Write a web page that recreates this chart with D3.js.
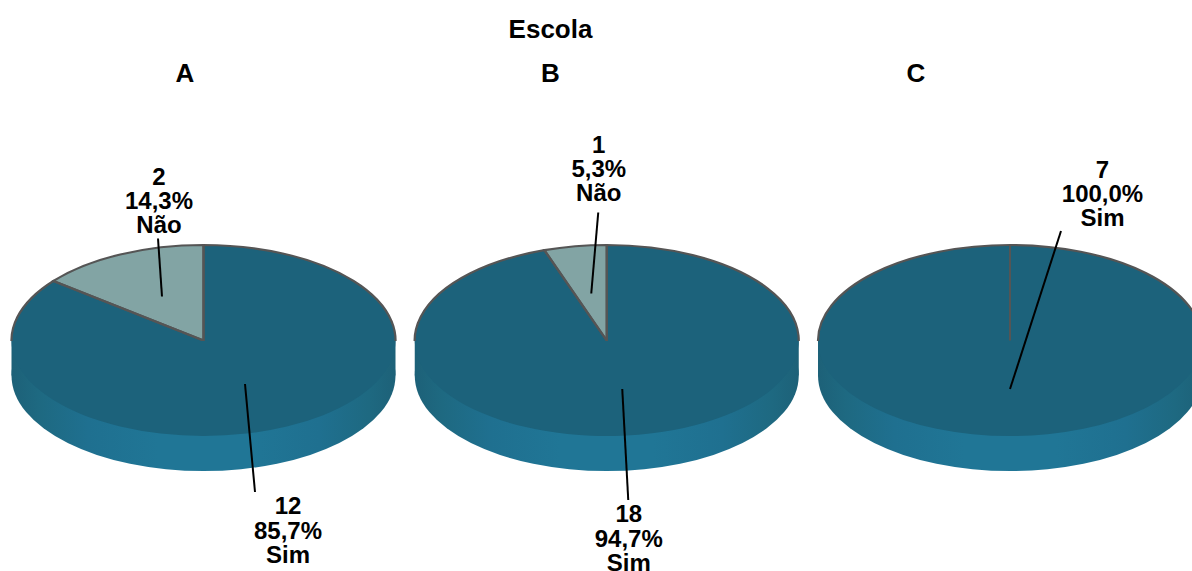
<!DOCTYPE html>
<html><head><meta charset="utf-8">
<script src="https://cdn.jsdelivr.net/npm/d3@7"></script>
<style>html,body{margin:0;padding:0;background:#fff;overflow:hidden}
text{font-family:"Liberation Sans",Arial,sans-serif;font-weight:700;fill:#000;text-anchor:middle}</style>
</head><body><svg id="c" width="1192" height="571"></svg>
<script>
const schools = ["A","B","C"];
const answers = ["Sim","Não"];
const countsA = [12,2];
const countsB = [18,1];
const countsC = [7,0];
const percentA = ["85,7%","14,3%"];
const percentB = ["94,7%","5,3%"];
const percentC = ["100,0%","0,0%"];
const allCounts = [countsA,countsB,countsC];
const allPercents = [percentA,percentB,percentC];

// layout (separate from data)
const W=1192,H=571, rx=192, ry=95.5, depth=35, cy=340.5;
const x = d3.scalePoint().domain(schools).range([203.5,1010]);
const headX = d3.scalePoint().domain(schools).range([185,916]);
const colour = d3.scaleOrdinal().domain(answers).range(["#1c627b","#82a4a4"]);
// label anchors and leader ends, per school and answer, relative to the pie centre
const callouts = {
  A:{Sim:{lx:84.5,ly:166,from:[41.5,43.5],to:[51.5,151.5]},Não:{lx:-44.5,ly:-163.5,from:[-41.5,-44],to:[-45.5,-102]}},
  B:{Sim:{lx:22,ly:174,from:[15.5,48.5],to:[21.5,159.5]},Não:{lx:-8,ly:-195.5,from:[-15.5,-47],to:[-8.5,-128]}},
  C:{Sim:{lx:92.5,ly:-170.5,from:[0,48.5],to:[51,-109.5]}}
};

const svg=d3.select("#c");
const defs=svg.append("defs");
const grad=defs.append("linearGradient").attr("id","wall").attr("x1",0).attr("x2",1).attr("y1",0).attr("y2",0);
[[0,"#1d6178"],[0.07,"#1e6981"],[0.2,"#1f7090"],[0.38,"#207696"],[0.62,"#207696"],[0.8,"#1f7090"],[0.93,"#1e6981"],[1,"#1d6178"]]
  .forEach(s=>grad.append("stop").attr("offset",s[0]).attr("stop-color",s[1]));
defs.append("clipPath").attr("id","upper").append("rect").attr("x",-rx-3).attr("y",-ry-3).attr("width",2*rx+6).attr("height",ry+3.5);

svg.append("text").attr("x",550.5).attr("y",37.5).attr("font-size",26).text("Escola");
svg.selectAll(".head").data(schools).enter().append("text").attr("class","head")
  .attr("x",d=>headX(d)).attr("y",81.5).attr("font-size",26).text(d=>d);

const pie=d3.pie().sort(null);
const arc=d3.arc().innerRadius(0).outerRadius(rx);

schools.forEach((s,si)=>{
  const g=svg.append("g").attr("transform",`translate(${x(s)},${cy})`);
  // side wall: extruded lower half
  g.append("rect").attr("x",-rx).attr("y",0).attr("width",2*rx).attr("height",depth).attr("fill","url(#wall)");
  g.append("ellipse").attr("cx",0).attr("cy",depth).attr("rx",rx).attr("ry",ry).attr("fill","url(#wall)");

  const slices=pie(allCounts[si]).filter(d=>d.value>0);
  const top=g.append("g").attr("transform",`scale(1,${ry/rx})`);
  top.selectAll("path").data(slices).enter().append("path").attr("d",arc)
    .attr("fill",(d)=>colour(answers[d.index]));
  // outline only on the rear half of the disc
  const out=g.append("g").attr("clip-path","url(#upper)").append("g").attr("transform",`scale(1,${ry/rx})`);
  out.selectAll("path").data(slices).enter().append("path").attr("d",arc)
    .attr("fill","none").attr("stroke","#555").attr("stroke-width",2.2).attr("vector-effect","non-scaling-stroke");
  // a full circle still shows its start radius
  if(slices.length===1){
    g.append("line").attr("x1",0).attr("y1",0).attr("x2",0).attr("y2",-ry).attr("stroke","#555").attr("stroke-width",2);
  }

  slices.forEach(d=>{
    const a=answers[d.index], c=callouts[s][a];
    g.append("line").attr("x1",c.from[0]).attr("y1",c.from[1]).attr("x2",c.to[0]).attr("y2",c.to[1])
      .attr("stroke","#000").attr("stroke-width",2);
    const t=[d.value,allPercents[si][d.index],a];
    g.selectAll(null).data(t).enter().append("text")
      .attr("x",c.lx).attr("y",(v,i)=>c.ly+i*24.2+7.8).attr("font-size",24).text(v=>v);
  });
});
</script></body></html>
